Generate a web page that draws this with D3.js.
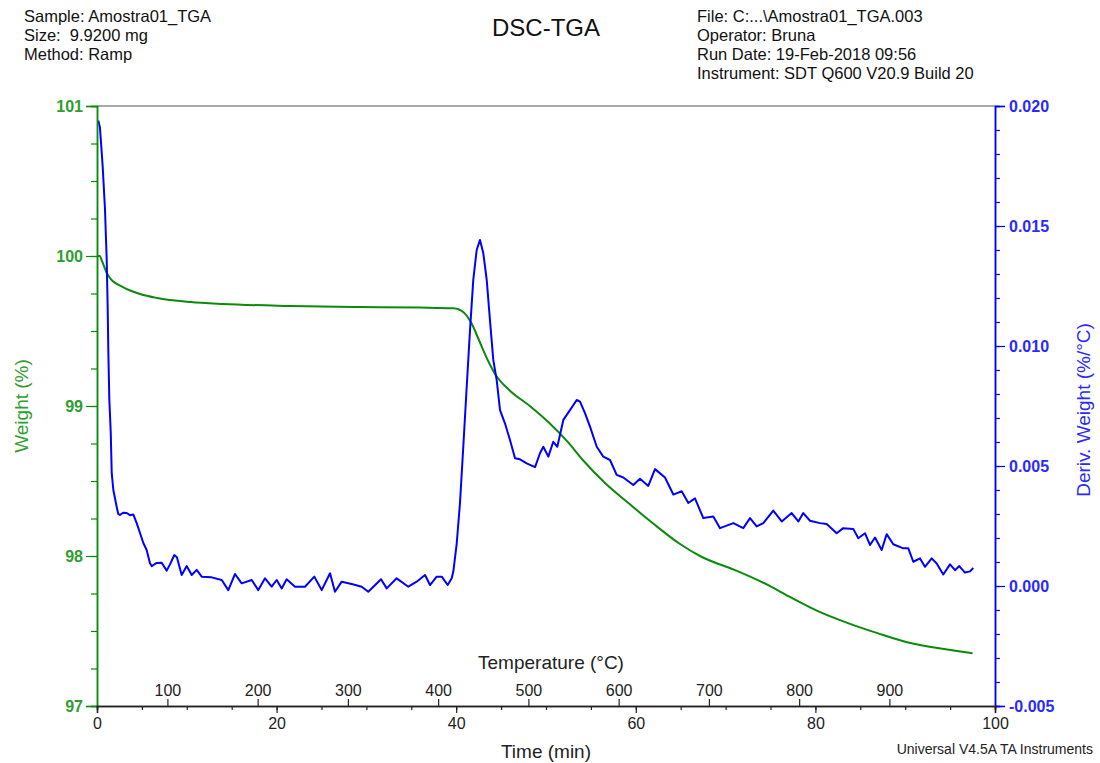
<!DOCTYPE html>
<html lang="en">
<head>
    <meta charset="UTF-8">
    <title>DSC-TGA</title>
    <style>
        body, html {
          margin: 0;
          padding: 0;
          background: #fff;
        }
        #svg text {
          font-family: 'Liberation Sans', Arial, sans-serif;
        }
    </style>
</head>
<body>
  <svg id="svg" width="1100" height="763"></svg>

  <script src="https://d3js.org/d3.v7.min.js"></script>
  <script>
    // ----- DATA ---------------------------------------------
    // weight curve (green), time in min
    const weightTime = [0, 0.3, 0.6, 1.08, 1.45, 2.9, 4.8, 6.7, 10.4, 14.0,
        21.5, 29, 36.0, 39.7, 40.9, 41.7, 42.6, 43.6, 44.4, 45.9,
        48.3, 50.4, 52.4, 54.1, 56.6, 59.0, 61.9, 64.8, 67.3, 71.0,
        74.7, 77.1, 80.4, 83.7, 87.0, 90.7, 94.5, 97.5]
    const weightPct = [100.0, 100.0, 99.96, 99.887, 99.853, 99.793, 99.747, 99.72, 99.693, 99.68,
        99.667, 99.66, 99.656, 99.651, 99.62, 99.551, 99.43, 99.295, 99.207, 99.107,
        98.995, 98.885, 98.762, 98.64, 98.485, 98.362, 98.218, 98.085, 97.995, 97.907,
        97.807, 97.729, 97.629, 97.551, 97.484, 97.418, 97.378, 97.351]

    // derivative curve (blue)
    const derivTime = [0.14, 0.33, 0.63, 0.89, 1.08, 1.19, 1.26, 1.37, 1.53, 1.64,
        1.82, 2.19, 2.37, 2.56, 2.9, 3.31, 3.67, 4.04, 4.42, 4.79,
        5.16, 5.53, 5.9, 6.09, 6.65, 7.2, 7.76, 8.13, 8.61, 8.9,
        9.43, 9.99, 10.55, 11.1, 11.66, 12.77, 13.89, 14.62, 15.37, 16.11,
        17.23, 17.96, 18.71, 19.45, 20.01, 20.57, 21.12, 22.05, 23.16, 24.2,
        25.02, 25.95, 26.5, 27.25, 28.36, 29.48, 30.21, 31.63, 32.26, 33.37,
        34.67, 35.6, 36.53, 37.08, 37.83, 38.39, 39.05, 39.5, 39.68, 40.06,
        40.42, 40.79, 41.17, 41.54, 41.9, 42.28, 42.65, 43.02, 43.4, 43.76,
        44.13, 44.51, 44.88, 45.43, 45.99, 46.55, 47.1, 47.85, 48.78, 49.33,
        49.7, 50.26, 50.81, 51.26, 51.93, 52.67, 53.42, 53.79, 54.34, 54.9,
        55.65, 56.38, 57.13, 57.87, 58.61, 59.72, 60.47, 61.39, 62.14, 63.25,
        64.18, 65.11, 65.85, 66.59, 67.52, 68.63, 69.38, 70.86, 71.97, 72.72,
        73.46, 74.2, 75.31, 76.25, 77.36, 78.1, 78.65, 79.4, 80.51, 81.26,
        82.37, 83.1, 84.22, 84.78, 85.52, 86.08, 86.64, 87.38, 87.94, 88.67,
        89.79, 90.35, 90.9, 91.65, 92.2, 92.95, 93.51, 94.24, 94.99, 95.55,
        96.02, 96.66, 97.22, 97.58]
    const derivVal = [0.0194, 0.0191, 0.0175, 0.0157, 0.0136, 0.0116, 0.0098, 0.0078, 0.0064, 0.0047,
        0.0040, 0.0033, 0.0030, 0.00296, 0.00305, 0.00304, 0.00295, 0.00298, 0.00262, 0.00221,
        0.00179, 0.0015, 0.00095, 0.00083, 0.00096, 0.00097, 0.00064, 0.0009, 0.00129, 0.0012,
        0.00046, 0.00083, 0.00046, 0.00067, 0.00039, 0.00036, 0.00025, -0.00017, 0.0005, 0.00011,
        0.00025, -0.00017, 0.00032, -0.00003, 0.00025, -0.0001, 0.00028, -0.00003, -0.00003, 0.00039,
        -0.00017, 0.00053, -0.00024, 0.00018, 0.00008, -0.00003, -0.00024, 0.00028, -0.0001, 0.00032,
        -0.00003, 0.00018, 0.00046, 0.00004, 0.00039, 0.00039, 0.00004, 0.00032, 0.0006, 0.00178,
        0.00345, 0.0058, 0.0083, 0.01067, 0.01275, 0.014, 0.01442, 0.01386, 0.01275, 0.01108,
        0.00942, 0.00858, 0.00733, 0.00678, 0.00608, 0.00532, 0.00528, 0.00511, 0.00495, 0.00553,
        0.0058, 0.00539, 0.00601, 0.0058, 0.00692, 0.00733, 0.00775, 0.00768, 0.0072, 0.00664,
        0.0058, 0.00539, 0.00525, 0.00463, 0.00452, 0.00421, 0.00447, 0.00417, 0.00487, 0.00452,
        0.00381, 0.00395, 0.00346, 0.00365, 0.00283, 0.0029, 0.00241, 0.00262, 0.00241, 0.00283,
        0.00248, 0.00262, 0.00314, 0.00269, 0.00304, 0.00269, 0.00304, 0.00272, 0.00262, 0.00258,
        0.0022, 0.00241, 0.00238, 0.00199, 0.0022, 0.00171, 0.00202, 0.0015, 0.00216, 0.00174,
        0.00157, 0.00157, 0.00101, 0.00115, 0.0008, 0.00115, 0.00094, 0.00048, 0.0009, 0.00066,
        0.00083, 0.00056, 0.00061, 0.00075]

    // tick labels
    const timeTicks = [0, 20, 40, 60, 80, 100]
    const tempTicks = [100, 200, 300, 400, 500, 600, 700, 800, 900]
    const weightTicks = [97, 98, 99, 100, 101]
    const derivTicks = [-0.005, 0.000, 0.005, 0.010, 0.015, 0.020]
    // temperature at the start / end of the time axis (ramp ~10 C/min)
    const tempAtStart = 22
    const tempAtEnd = 1017

    const headerLeft = ['Sample: Amostra01_TGA', 'Size:  9.9200 mg', 'Method: Ramp']
    const headerRight = ['File: C:...\\Amostra01_TGA.003', 'Operator: Bruna',
        'Run Date: 19-Feb-2018 09:56', 'Instrument: SDT Q600 V20.9 Build 20']

    // CONSTANTS
    const margin = {top: 106, right: 105, bottom: 57, left: 97}
    const width = 1100 - (margin.left + margin.right)
    const height = 763 - (margin.top + margin.bottom)
    const green = '#0b8a0b'
    const greenText = '#2e9e2e'
    const blue = '#0000ff'
    const blueText = '#2a2aff'

    // -------- SCALES ------------
    const xScale = d3.scaleLinear()
        .domain([0, 100])
        .range([margin.left, margin.left + width])

    const tempScale = d3.scaleLinear()
        .domain([tempAtStart, tempAtEnd])
        .range([margin.left, margin.left + width])

    const yWeight = d3.scaleLinear()
        .domain([97, 101])
        .range([margin.top + height, margin.top])

    const yDeriv = d3.scaleLinear()
        .domain([-0.005, 0.020])
        .range([margin.top + height, margin.top])

    // -------- DRAW ------------
    const svg = d3.select('#svg')

    // frame top
    svg.append('line')
        .attr('x1', margin.left).attr('x2', margin.left + width)
        .attr('y1', margin.top).attr('y2', margin.top)
        .attr('stroke', '#555').attr('stroke-width', 1.2)

    const weightLine = d3.line()
        .x(i => xScale(weightTime[i]))
        .y(i => yWeight(weightPct[i]))
        .curve(d3.curveMonotoneX)

    svg.append('path')
        .attr('d', weightLine(d3.range(weightTime.length)))
        .attr('fill', 'none')
        .attr('stroke', green)
        .attr('stroke-width', 2)

    const derivLine = d3.line()
        .x(i => xScale(derivTime[i]))
        .y(i => yDeriv(derivVal[i]))

    svg.append('path')
        .attr('d', derivLine(d3.range(derivTime.length)))
        .attr('fill', 'none')
        .attr('stroke', blue)
        .attr('stroke-width', 2)
        .attr('stroke-linejoin', 'round')

    // -------- AXES ------------
    function styleAxis(g, color, textColor, size) {
        g.select('.domain').attr('stroke', color).attr('stroke-width', 1.5)
        g.selectAll('.tick line').attr('stroke', color).attr('stroke-width', 1.2)
        g.selectAll('.tick text')
            .attr('fill', textColor)
            .style('font-size', size + 'px')
            .style('font-family', "'Liberation Sans', Arial, sans-serif")
    }

    // left: weight
    svg.append('g')
        .attr('transform', `translate(${margin.left}, 0)`)
        .call(d3.axisLeft(yWeight).tickValues(d3.range(97, 101.01, 0.25)).tickSize(6).tickFormat(''))
        .call(g => styleAxis(g, green, greenText, 16))
    svg.append('g')
        .attr('transform', `translate(${margin.left}, 0)`)
        .call(d3.axisLeft(yWeight).tickValues(weightTicks).tickSize(11).tickPadding(3).tickFormat(d3.format('d')))
        .call(g => styleAxis(g, green, greenText, 16))
        .call(g => g.selectAll('.tick text').style('font-weight', 'bold'))

    // right: deriv weight
    svg.append('g')
        .attr('transform', `translate(${margin.left + width}, 0)`)
        .call(d3.axisRight(yDeriv).tickValues(d3.range(-0.005, 0.0201, 0.001)).tickSize(5).tickFormat(''))
        .call(g => styleAxis(g, blue, blueText, 16))
    svg.append('g')
        .attr('transform', `translate(${margin.left + width}, 0)`)
        .call(d3.axisRight(yDeriv).tickValues(derivTicks).tickSize(10).tickPadding(4).tickFormat(d => d.toFixed(3)))
        .call(g => styleAxis(g, blue, blueText, 16))
        .call(g => g.selectAll('.tick text').style('font-weight', 'bold'))

    // bottom: time
    svg.append('g')
        .attr('transform', `translate(0, ${margin.top + height})`)
        .call(d3.axisBottom(xScale).tickValues(d3.range(0, 101, 5)).tickSize(4).tickFormat(''))
        .call(g => styleAxis(g, '#222', '#222', 15))
    svg.append('g')
        .attr('transform', `translate(0, ${margin.top + height})`)
        .call(d3.axisBottom(xScale).tickValues(timeTicks).tickSize(7).tickPadding(5))
        .call(g => styleAxis(g, '#222', '#222', 16))

    // temperature ticks along the same line, pointing up
    svg.append('g')
        .attr('transform', `translate(0, ${margin.top + height})`)
        .call(d3.axisTop(tempScale).tickValues(tempTicks).tickSize(7).tickPadding(3))
        .call(g => styleAxis(g, '#222', '#222', 16))
        .call(g => g.select('.domain').remove())

    // axis labels
    svg.append('text')
        .attr('transform', `translate(28, ${margin.top + height / 2}) rotate(-90)`)
        .attr('text-anchor', 'middle')
        .attr('fill', greenText)
        .style('font-size', '19px')
        .text('Weight (%)')

    svg.append('text')
        .attr('transform', `translate(1090, ${margin.top + height / 2 + 4}) rotate(-90)`)
        .attr('text-anchor', 'middle')
        .attr('fill', blueText)
        .style('font-size', '19px')
        .text('Deriv. Weight (%/°C)')

    svg.append('text')
        .attr('x', 551)
        .attr('y', 669)
        .attr('text-anchor', 'middle')
        .attr('fill', '#222')
        .style('font-size', '19px')
        .text('Temperature (°C)')

    svg.append('text')
        .attr('x', 546)
        .attr('y', 758)
        .attr('text-anchor', 'middle')
        .attr('fill', '#222')
        .style('font-size', '19px')
        .text('Time (min)')

    // header
    svg.append('text')
        .attr('x', 546)
        .attr('y', 36)
        .attr('text-anchor', 'middle')
        .attr('fill', '#111')
        .style('font-size', '24px')
        .text('DSC-TGA')

    svg.append('g')
        .selectAll('text')
        .data(headerLeft)
        .enter()
        .append('text')
        .attr('x', 24)
        .attr('y', (d, i) => 22 + i * 19)
        .attr('fill', '#111')
        .style('font-size', '16.5px')
        .style('white-space', 'pre')
        .attr('xml:space', 'preserve')
        .text(d => d)

    svg.append('g')
        .selectAll('text')
        .data(headerRight)
        .enter()
        .append('text')
        .attr('x', 697)
        .attr('y', (d, i) => 22 + i * 19)
        .attr('fill', '#111')
        .style('font-size', '16.5px')
        .text(d => d)

    svg.append('text')
        .attr('x', 1093)
        .attr('y', 754)
        .attr('text-anchor', 'end')
        .attr('fill', '#222')
        .style('font-size', '14px')
        .text('Universal V4.5A TA Instruments')
  </script>
</body>
</html>
